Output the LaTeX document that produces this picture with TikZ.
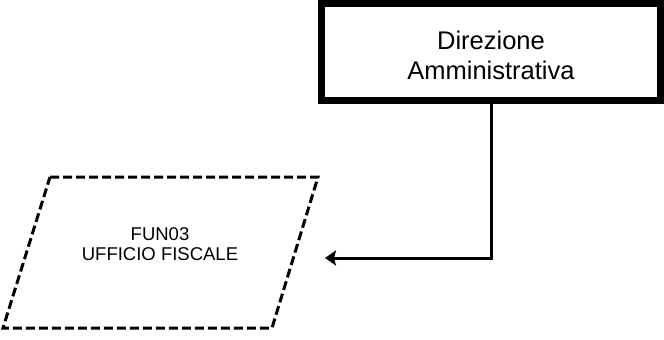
\documentclass[tikz,border=0pt]{standalone}
\usepackage{fontspec}
\setmainfont{Liberation Sans}
\usetikzlibrary{arrows.meta}
\begin{document}
\begin{tikzpicture}[x=1pt,y=-1pt,
  dirbox/.style={draw, line width=7pt, minimum width=339pt, minimum height=97pt, inner sep=0pt, align=center, font=\fontsize{25.5}{30}\selectfont},
  funshape/.style={draw, line width=3pt, dash pattern=on 9pt off 4pt},
  funtext/.style={align=center, inner sep=0pt, font=\fontsize{18.5}{20.5}\selectfont},
  conn/.style={line width=3pt, -{Stealth[length=11pt,width=15pt,inset=2pt]}}]
\useasboundingbox (0,0) rectangle (664,340);
\node[dirbox] (dir) at (491,52) {\raisebox{0pt}[\dimexpr\height+13pt\relax]{\begin{tabular}{@{}c@{}}Direzione\\[0pt]Amministrativa\end{tabular}}};
\draw[funshape] (50,177) -- (318,177) -- (272,328) -- (3,328) -- cycle;
\node[funtext] (fun) at (160,244) {FUN03\\UFFICIO FISCALE};
\coordinate (tip) at (325,258);
\draw[conn] (dir.south) |- (tip);
\end{tikzpicture}
\end{document}
